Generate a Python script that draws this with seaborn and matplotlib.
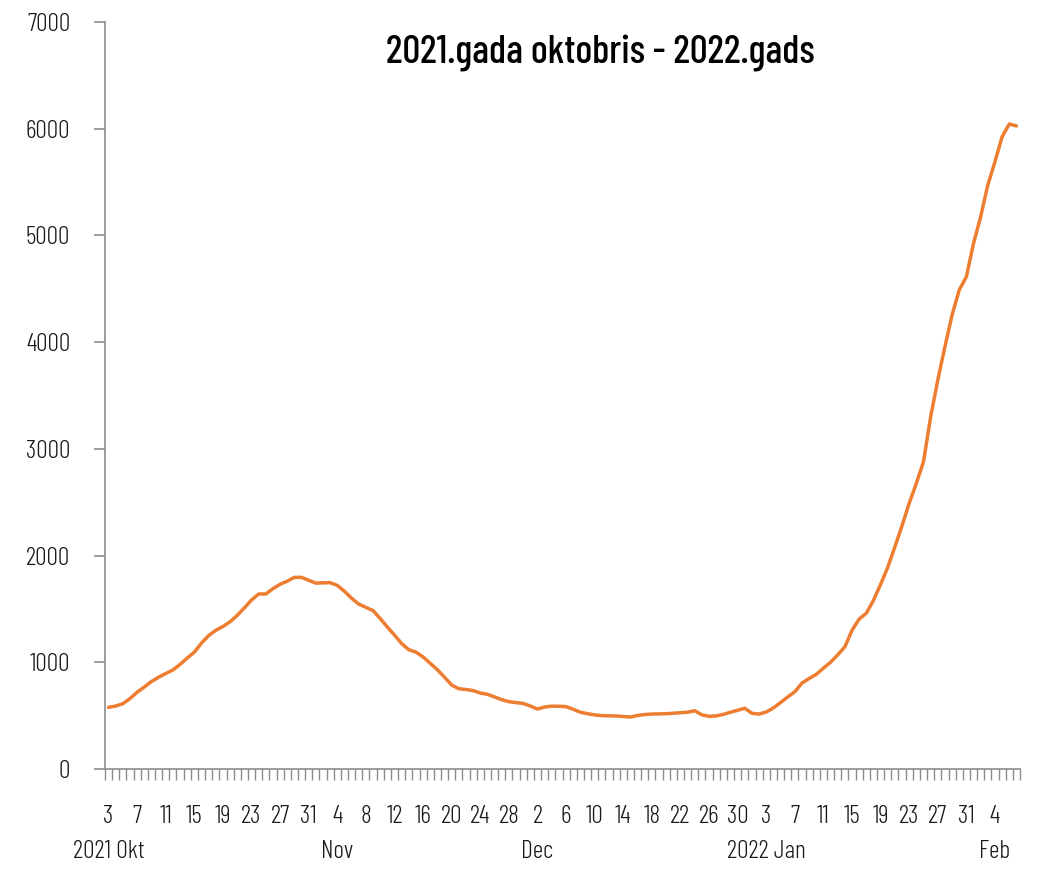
import numpy as np
import pandas as pd
import matplotlib
matplotlib.use("Agg")
import matplotlib.pyplot as plt
import matplotlib.transforms as mtransforms
import seaborn as sns

# ---- data ----
start_date = "2021-10-03"
values = [
    578, 590, 612, 660, 720, 768, 820, 860, 895, 928,
    980, 1040, 1095, 1180, 1250, 1300, 1335, 1380, 1440, 1510,
    1584, 1640, 1640, 1690, 1731, 1760, 1796, 1796, 1768, 1742,
    1745, 1746, 1720, 1665, 1600, 1545, 1515, 1484, 1410, 1330,
    1255, 1175, 1118, 1095, 1050, 990, 930, 860, 787, 752,
    745, 735, 712, 700, 675, 650, 631, 622, 615, 590,
    562, 581, 589, 588, 584, 560, 532, 518, 507, 500,
    498, 497, 492, 487, 502, 510, 515, 517, 518, 523,
    527, 532, 546, 507, 494, 497, 512, 532, 550, 569,
    522, 515, 534, 572, 622, 675, 724, 805, 848, 887,
    945, 1000, 1070, 1145, 1300, 1405, 1460, 1580, 1730, 1890,
    2083, 2280, 2490, 2677, 2880, 3300, 3645, 3958, 4255, 4489,
    4613, 4926, 5176, 5473, 5691, 5925, 6044, 6026,
]
month_labels = ["2021 Okt", "Nov", "Dec", "2022 Jan", "Feb"]
y_ticks = [0, 1000, 2000, 3000, 4000, 5000, 6000, 7000]
title_text = "2021.gada oktobris - 2022.gads"

dates = pd.date_range(start_date, periods=len(values), freq="D")
df = pd.DataFrame({"pos": np.arange(len(values)), "value": values, "date": dates})

# ---- styling ----
sns.set_theme(style="white")
plt.rcParams["font.family"] = ["Barlow Condensed", "DejaVu Sans"]

line_color = "#ED7D31"
axis_color = "#8C8C8C"
text_color = "#1A1A1A"
label_size = 18.5
label_weight = 300

fig = plt.figure(figsize=(10.4, 8.75), dpi=100)
W, H = 1040, 875
ax = fig.add_axes([105 / W, 1 - 769 / H, (1020 - 105) / W, (769 - 22) / H])

sns.lineplot(data=df, x="pos", y="value", ax=ax, color=line_color, linewidth=2.5)

ax.set_xlim(-0.5, len(values) - 0.5)
ax.set_ylim(y_ticks[0], y_ticks[-1])
ax.set_xlabel("")
ax.set_ylabel("")

for s in ["top", "right"]:
    ax.spines[s].set_visible(False)
for s in ["left", "bottom"]:
    ax.spines[s].set_color(axis_color)
    ax.spines[s].set_linewidth(1.2)

# y ticks
ax.set_yticks(y_ticks)
ax.set_yticklabels([str(v) for v in y_ticks], fontweight=label_weight)
ax.tick_params(axis="y", which="major", length=8, width=1.2, color=axis_color,
               direction="out", pad=17, labelsize=label_size, labelcolor=text_color, left=True)

# x ticks: labels every 4 days, tick marks between each day
lab_df = df.iloc[::4]
ax.set_xticks(lab_df["pos"].values)
ax.set_xticklabels([str(d.day) for d in lab_df["date"]], fontweight=label_weight)
ax.set_xticks(np.arange(-0.5, len(values)), minor=True)
ax.tick_params(axis="x", which="major", length=0, pad=26, labelsize=label_size, labelcolor=text_color)
ax.tick_params(axis="x", which="minor", length=8, width=1.0, color=axis_color,
               direction="out", bottom=True)

# month labels under the first labelled day of each month
first_of_month = lab_df.groupby([lab_df["date"].dt.year, lab_df["date"].dt.month])["pos"].min().values
trans = mtransforms.blended_transform_factory(ax.transData, fig.transFigure)
for p, lab in zip(first_of_month, month_labels):
    ax.text(p, 1 - 852 / H, lab, transform=trans, ha="center", va="center",
            fontsize=label_size, color=text_color, fontweight=label_weight)

ax.grid(False)

fig.text(600 / W, 1 - 53 / H, title_text, ha="center", va="center",
         fontsize=28.5, color="#000000", fontweight="medium")

fig.savefig("out.png", dpi=100, facecolor="white")
